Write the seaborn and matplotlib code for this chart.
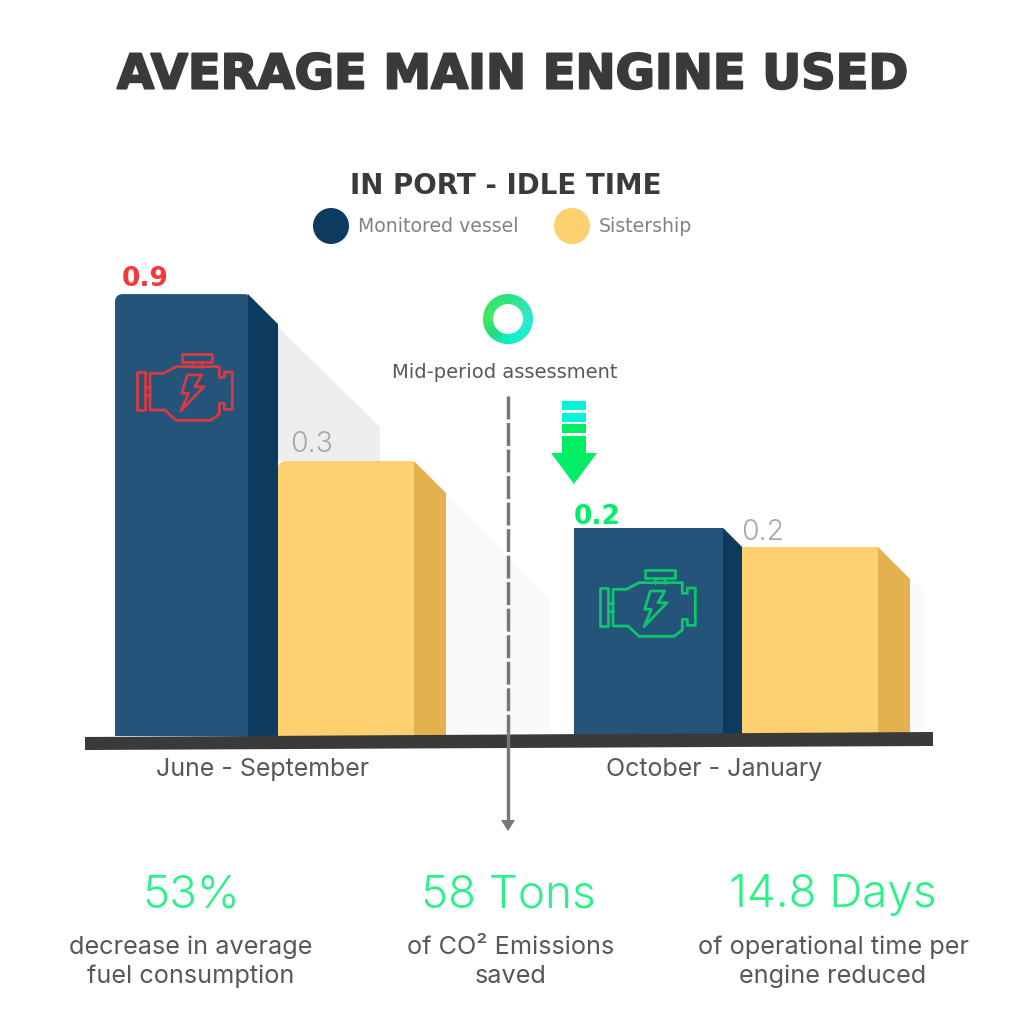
import matplotlib
matplotlib.use('Agg')
import matplotlib.pyplot as plt
import matplotlib.patheffects as pe
import pandas as pd
import seaborn as sns
from matplotlib.colors import LinearSegmentedColormap
from matplotlib.patches import Circle, FancyBboxPatch, Polygon, Rectangle, Wedge

# Data (bar heights are read off the picture, the printed labels do not scale with them)
bar_names = ['June monitored', 'June sistership', 'October monitored', 'October sistership']
bar_heights = [0.90, 0.56, 0.424, 0.385]
bar_labels = ['0.9', '0.3', '0.2', '0.2']
period_labels = ['June - September', 'October - January']
legend_labels = ['Monitored vessel', 'Sistership']
stat_values = ['53%', '58 Tons', '14.8 Days']
stat_captions = ['decrease in average\nfuel consumption', 'of CO² Emissions\nsaved',
                 'of operational time per\nengine reduced']

# Layout, in pixels of the 1024 image
BASE_Y = 736
PX_PER_UNIT = 491
bar_left = [115, 278, 574, 742]
bar_right = [248, 414, 723, 878]
bar_depth = [30, 32, 19, 32]

NAVY, NAVY_SIDE = '#24547a', '#0d3a5f'
YELLOW, YELLOW_SIDE = '#fdd06f', '#e3b24f'
GREEN = '#00ee66'
CYAN = '#00f5d8'
BODY = '#55585c'
GRAY = '#808285'
THIN = 'Inter'

sns.set_theme(style='white')
fig = plt.figure(figsize=(10.24, 10.24), dpi=100, facecolor='white')

# Bars
ax = fig.add_axes([0, (1024 - BASE_Y) / 1024, 1, BASE_Y / 1024])
ax.patch.set_visible(False)
df = pd.DataFrame({'bar': bar_names, 'height': bar_heights})
sns.barplot(data=df, x='bar', y='height', hue='bar', legend=False, ax=ax, saturation=1,
            palette=[NAVY, YELLOW, NAVY, YELLOW], width=0.8, zorder=3)

# Overlay in pixel coordinates for everything around the bars
deco = fig.add_axes([0, 0, 1, 1], zorder=5)
deco.set_xlim(0, 1024)
deco.set_ylim(1024, 0)
deco.axis('off')
deco.patch.set_visible(False)

for i, patch in enumerate(ax.patches):
    patch.set_x(bar_left[i])
    patch.set_width(bar_right[i] - bar_left[i])
    patch.set_linewidth(0)
    top = BASE_Y - bar_heights[i] * PX_PER_UNIT
    # sharp 3D side face, going down to the right
    d = bar_depth[i] / PX_PER_UNIT
    h = bar_heights[i]
    ax.fill([bar_right[i], bar_right[i] + bar_depth[i], bar_right[i] + bar_depth[i], bar_right[i]],
            [h, h - d, 0, 0], color=NAVY_SIDE if i % 2 == 0 else YELLOW_SIDE, lw=0, zorder=2)
    # only the first group has rounded corners
    if i < 2:
        clip = FancyBboxPatch((bar_left[i] + 8, top + 8), bar_right[i] - bar_left[i] - 12, 500,
                              boxstyle='round,pad=8', transform=deco.transData)
        patch.set_clip_path(clip)

# Soft shadows behind the bars
shadows = [([278, 380, 380, 278], [327, 427, 461, 461], '#eeeeee'),
           ([446, 550, 550, 446], [492, 600, 733, 733], '#fafafa'),
           ([910, 925, 925, 910], [578, 592, 733, 733], '#fafafa')]
for xs, ys, col in shadows:
    ax.add_patch(Polygon(list(zip(xs, ys)), closed=True, fc=col, ec='none', zorder=1,
                         transform=deco.transData))

ax.set_xlim(0, 1024)
ax.set_ylim(0, BASE_Y / PX_PER_UNIT)
ax.set_xticks([263, 714])
ax.set_xticklabels(period_labels, fontsize=18, color=BODY, family=THIN)
ax.tick_params(axis='x', length=0, pad=16)
ax.set_yticks([])
ax.set_xlabel('')
ax.set_ylabel('')
sns.despine(ax=ax, left=True, bottom=True)

# Ground slab
deco.add_patch(Polygon([(85, 737), (933, 732), (933, 746), (85, 750)], closed=True, fc='#3a3a3a', ec='none', zorder=2))

# Titles and legend
deco.text(512, 75, 'AVERAGE MAIN ENGINE USED', ha='center', va='center', fontsize=34.5, fontweight='bold', color='#3a3a3a',
          path_effects=[pe.withStroke(linewidth=1.5, foreground='#3a3a3a')])
deco.text(505.5, 186, 'IN PORT - IDLE TIME', ha='center', va='center', fontsize=20, fontweight='bold', color='#3a3a3a')
deco.add_patch(Circle((331, 226), 18, fc=NAVY_SIDE, ec='none'))
deco.add_patch(Circle((572, 226), 18, fc=YELLOW, ec='none'))
deco.text(358, 227, legend_labels[0], ha='left', va='center', fontsize=13.6, color=GRAY)
deco.text(599, 227, legend_labels[1], ha='left', va='center', fontsize=13.6, color=GRAY)

# Value labels
deco.text(145, 279, bar_labels[0], ha='center', va='center', fontsize=19, fontweight='bold', color='#f93636')
deco.text(312, 444, bar_labels[1], ha='center', va='center', fontsize=20.5, color='#a8a8a8', family=THIN, fontweight=300)
deco.text(597, 517, bar_labels[2], ha='center', va='center', fontsize=19, fontweight='bold', color=GREEN)
deco.text(763, 532, bar_labels[3], ha='center', va='center', fontsize=20.5, color='#a8a8a8', family=THIN, fontweight=300)

# Ring marker, angles run clockwise on screen from the right because y is inverted
ring_cmap = LinearSegmentedColormap.from_list('ring', [(0, '#2ee8d0'), (0.25, '#05f0c0'), (0.375, '#20d878'),
                                                       (0.5, '#3de85a'), (0.75, '#22e47a'), (1, '#2ee8d0')])
for k in range(72):
    deco.add_patch(Wedge((508, 319), 25, k * 5, k * 5 + 6, width=10, fc=ring_cmap(k / 72), ec='none'))
deco.text(505, 373, 'Mid-period assessment', ha='center', va='center', fontsize=14, color=BODY)

# Mid-period line
deco.plot([508, 508], [396, 733], color='#777777', lw=2.5, ls=(0, (6.6, 1.04)), dash_capstyle='butt', zorder=3)
deco.plot([508, 508], [733, 822], color='#777777', lw=2.5, solid_capstyle='butt', zorder=3)
deco.add_patch(Polygon([(501, 820), (515, 820), (508, 831)], closed=True, fc='#777777', ec='none', zorder=3))

# Drop arrow
for y0, y1, col in [(401, 410, CYAN), (413, 422, CYAN), (424, 433, GREEN), (436, 454, GREEN)]:
    deco.add_patch(Rectangle((562, y0), 24, y1 - y0, fc=col, ec='none'))
deco.add_patch(Polygon([(551, 453), (597, 453), (574, 484)], closed=True, fc=GREEN, ec='none'))

# Engine icon, outline points in pixels for the red one
def draw_engine(dx, dy, color):
    body = [(150, 340), (190, 340), (228, 320), (358, 320), (358, 352), (373, 352), (373, 336), (397, 336),
            (397, 448), (373, 448), (373, 430), (358, 430), (358, 462), (333, 481), (228, 481), (195, 450), (150, 450)]
    bolt = [(262, 345), (305, 345), (285, 380), (312, 380), (243, 452), (265, 400), (245, 400)]
    cap = [(247, 283), (335, 283), (335, 305), (247, 305)]
    fly = [(110, 335), (135, 335), (135, 450), (110, 450)]
    for pts in [body, bolt, cap, fly]:
        deco.add_patch(Polygon([(x / 3 + 100 + dx, y / 3 + 260 + dy) for x, y in pts], closed=True,
                               fc='none', ec=color, lw=2, joinstyle='round'))
    for xs, ys in [([135, 150], [382, 382]), ([135, 150], [405, 405]), ([275, 275], [305, 320]), ([305, 305], [305, 320])]:
        deco.plot([x / 3 + 100 + dx for x in xs], [y / 3 + 260 + dy for y in ys], color=color, lw=2)

draw_engine(0, 0, '#d93a42')
draw_engine(463, 216, '#0fc46c')

# Bottom stats
for x_val, x_cap, val, cap in zip([191, 508, 833], [191, 511, 833], stat_values, stat_captions):
    deco.text(x_val, 895, val, ha='center', va='center', fontsize=33, color='#2cf088', family=THIN, fontweight=300)
    deco.text(x_cap, 962, cap, ha='center', va='center', fontsize=18.2, color=BODY, family=THIN, linespacing=1.3)

fig.savefig('out.png', dpi=100)
